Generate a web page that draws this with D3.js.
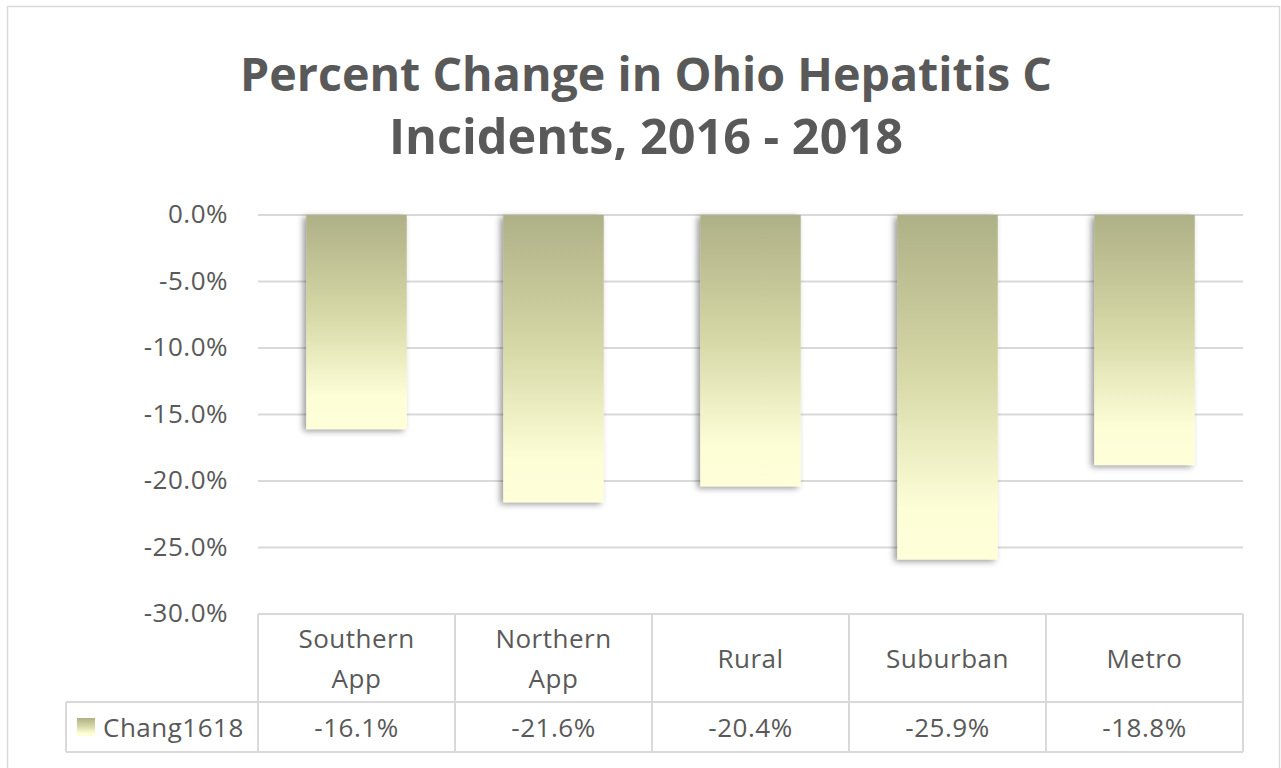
<!DOCTYPE html>
<html><head><meta charset="utf-8">
<script src="https://cdn.jsdelivr.net/npm/d3@7/dist/d3.min.js"></script>
<style>body{margin:0;background:#fff}svg{display:block}</style>
</head><body>
<svg id="c" width="1281" height="768"></svg>
<script>
const categories = [["Southern","App"],["Northern","App"],["Rural"],["Suburban"],["Metro"]];
const values = [-16.1, -21.6, -20.4, -25.9, -18.8];
const yTicks = [0, -5, -10, -15, -20, -25, -30];
const seriesName = "Chang1618";
const titleLines = ["Percent Change in Ohio Hepatitis C", "Incidents, 2016 - 2018"];

(function(){
const svg = d3.select("#c");
const font = "'Open Sans', 'Noto Sans', sans-serif";
const textColor = "#595959";
const gridColor = "#d9d9d9";
const fs = 26;

// chart border
svg.append("path").attr("d","M7.5,768 L7.5,6.5 L1279.5,6.5 L1279.5,768")
  .attr("fill","none").attr("stroke","#d9d9d9").attr("stroke-width",1.5);

const defs = svg.append("defs");
const grad = defs.append("linearGradient").attr("id","bg").attr("x1",0).attr("y1",0).attr("x2",0).attr("y2",1);
grad.append("stop").attr("offset","0%").attr("stop-color","#aeb086");
grad.append("stop").attr("offset","45%").attr("stop-color","#d6d7a6");
grad.append("stop").attr("offset","85%").attr("stop-color","#fdfed6");
grad.append("stop").attr("offset","100%").attr("stop-color","#fefed8");
const f = defs.append("filter").attr("id","sh").attr("x","-20%").attr("y","-5%").attr("width","140%").attr("height","115%");
f.append("feDropShadow").attr("dx",-3).attr("dy",2).attr("stdDeviation",3).attr("flood-color","#000").attr("flood-opacity",0.4);

// title
const title = svg.append("g");
titleLines.forEach((t,i)=>{
  const el = title.append("text").attr("x",646).attr("y",[91,154][i]).attr("text-anchor","middle")
    .attr("font-family",font).attr("font-weight","bold").attr("font-size",42).attr("fill",textColor).text(t);
  const target = [812, 514][i];
  const w = el.node().getComputedTextLength();
  el.attr("font-size", 42*target/w);
});

const pL = 258, pR = 1243, pT = 215, pB = 614;
const x = d3.scaleBand().domain(d3.range(values.length)).range([pL,pR]).paddingInner(0.49).paddingOuter(0.245);
const y = d3.scaleLinear().domain([0,-30]).range([pT,pB]);

// gridlines
svg.append("g").selectAll("line").data(yTicks.slice(0,-1)).join("line")
  .attr("x1",pL).attr("x2",pR).attr("y1",d=>y(d)).attr("y2",d=>y(d))
  .attr("stroke",gridColor).attr("stroke-width",2);

// y axis labels
const yAxis = d3.axisLeft(y).tickValues(yTicks).tickFormat(d=>d3.format(".1f")(d).replace("−","-")+"%").tickSize(0).tickPadding(30);
const ya = svg.append("g").attr("transform",`translate(${pL},0)`).call(yAxis);
ya.select(".domain").remove();
ya.selectAll("text").attr("font-family",font).attr("font-size",fs).attr("fill",textColor).attr("dy","0.3em").attr("letter-spacing",0.5);

// bars
svg.append("g").selectAll("rect").data(values).join("rect")
  .attr("x",(d,i)=>x(i)).attr("width",x.bandwidth())
  .attr("y",y(0)).attr("height",d=>y(d)-y(0))
  .attr("fill","url(#bg)").attr("filter","url(#sh)");

// data table
const legendLeft = 66, rowMid = 702, tableBottom = 752;
const tbl = svg.append("g").attr("fill","none").attr("stroke",gridColor).attr("stroke-width",2);
const bounds = d3.range(values.length+1).map(i => pL + i*(pR-pL)/values.length);
tbl.append("line").attr("x1",pL).attr("x2",pR).attr("y1",pB).attr("y2",pB);
tbl.append("line").attr("x1",legendLeft).attr("x2",pR).attr("y1",rowMid).attr("y2",rowMid);
tbl.append("line").attr("x1",legendLeft).attr("x2",pR).attr("y1",tableBottom).attr("y2",tableBottom);
bounds.forEach(b=>tbl.append("line").attr("x1",b).attr("x2",b).attr("y1",pB).attr("y2",tableBottom));
tbl.append("line").attr("x1",legendLeft).attr("x2",legendLeft).attr("y1",rowMid).attr("y2",tableBottom);

const cx = i => (bounds[i]+bounds[i+1])/2;
categories.forEach((lines,i)=>{
  const t = svg.append("text").attr("text-anchor","middle").attr("font-family",font).attr("font-size",fs).attr("fill",textColor).attr("letter-spacing",0.5);
  const y0 = lines.length===2 ? 648 : 668;
  lines.forEach((l,j)=>t.append("tspan").attr("x",cx(i)).attr("y",y0+j*40).text(l));
});
values.forEach((v,i)=>{
  svg.append("text").attr("x",cx(i)).attr("y",737).attr("text-anchor","middle").attr("letter-spacing",0.5)
    .attr("font-family",font).attr("font-size",fs).attr("fill",textColor).text(d3.format(".1f")(v).replace("−","-")+"%");
});
// legend key
svg.append("rect").attr("x",77).attr("y",718).attr("width",18).attr("height",18).attr("fill","url(#bg)");
svg.append("text").attr("x",103).attr("y",737).attr("font-family",font).attr("font-size",fs).attr("fill",textColor).attr("letter-spacing",0.5).text(seriesName);
})();
</script>
</body></html>
